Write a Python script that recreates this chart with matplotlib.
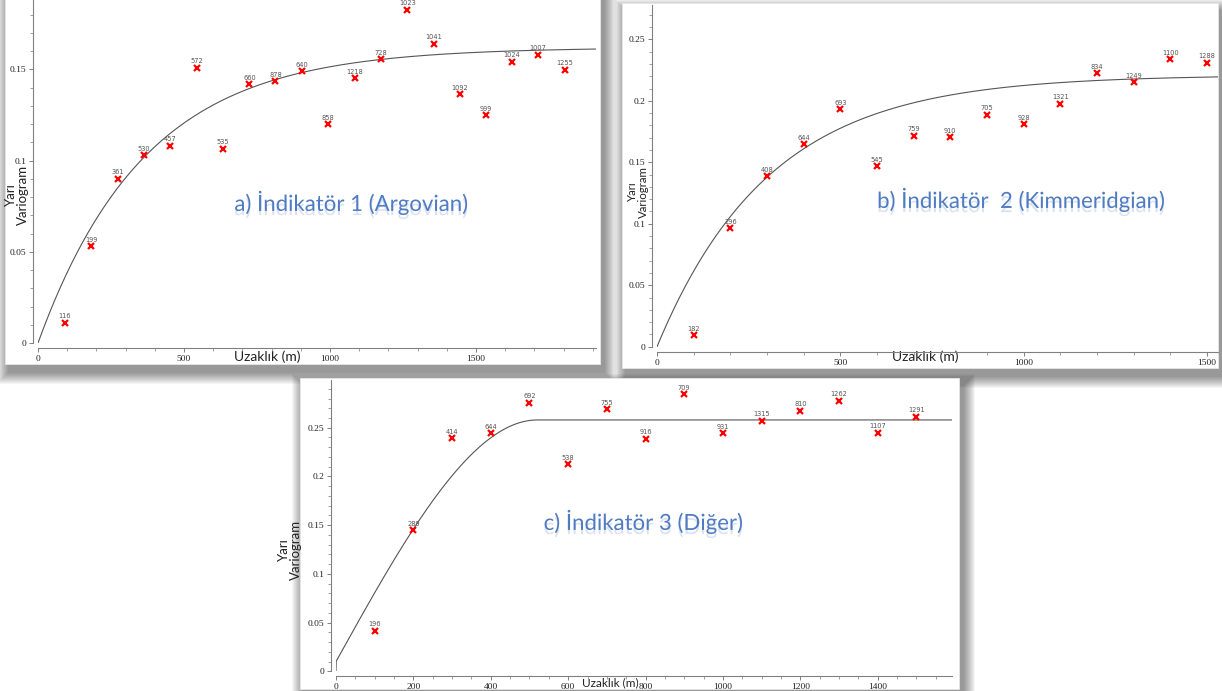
"""Three indicator variograms (experimental points + fitted model) laid out as cards."""
import numpy as np
import matplotlib
matplotlib.use("Agg")
import matplotlib.pyplot as plt
from matplotlib.patches import Rectangle
from matplotlib.ticker import MultipleLocator, FuncFormatter
import matplotlib.patheffects as pe

W, H = 1222, 691

# ---- panel a) Indikator 1 (Argovian)
lag_a = [92, 183, 273, 363, 453, 543, 634, 724, 813, 903, 994, 1085, 1175,
         1265, 1355, 1445, 1535, 1624, 1713, 1804]
gam_a = [0.011, 0.053, 0.090, 0.103, 0.108, 0.151, 0.1066, 0.1418, 0.1436,
         0.149, 0.1198, 0.145, 0.1555, 0.1827, 0.164, 0.1364, 0.1249, 0.1542,
         0.158, 0.1498]
pairs_a = ["116", "199", "361", "530", "457", "572", "535", "660", "878", "640",
           "858", "1218", "728", "1023", "1041", "1092", "999", "1024", "1007", "1255"]
sill_a, range_a = 0.162, 1100      # exponential model

# ---- panel b) Indikator 2 (Kimmeridgian)
lag_b = [100, 200, 300, 400, 500, 600, 700, 800, 900, 1000, 1100, 1200, 1300, 1400, 1500]
gam_b = [0.0095, 0.0965, 0.1385, 0.1646, 0.1932, 0.1469, 0.1718, 0.1705,
         0.1886, 0.1808, 0.1976, 0.2225, 0.215, 0.2337, 0.2309]
pairs_b = ["182", "296", "408", "644", "693", "545", "759", "910", "705", "928",
           "1321", "834", "1249", "1100", "1288"]
sill_b, range_b = 0.221, 920       # exponential model

# ---- panel c) Indikator 3 (Diger)
lag_c = [100, 200, 300, 400, 500, 600, 700, 800, 900, 1000, 1100, 1200, 1300, 1400, 1500]
gam_c = [0.0417, 0.145, 0.239, 0.2443, 0.2755, 0.2128, 0.269, 0.2385, 0.2843,
         0.2443, 0.2573, 0.2676, 0.2778, 0.245, 0.2614]
pairs_c = ["196", "289", "414", "644", "692", "538", "755", "916", "709", "931",
           "1315", "810", "1262", "1107", "1291"]
nugget_c, sill_c, range_c = 0.01, 0.258, 520   # spherical model


def expo(h, c, a):
    return c * (1 - np.exp(-3 * h / a))


def spher(h, c0, c, a):
    r = np.minimum(h / a, 1.0)
    g = c0 + (c - c0) * (1.5 * r - 0.5 * r ** 3)
    return np.where(h > 0, g, 0.0)


fig = plt.figure(figsize=(W / 100, H / 100), dpi=100)
fig.patch.set_facecolor("white")
bg = fig.add_axes([0, 0, 1, 1])
bg.set_xlim(0, W)
bg.set_ylim(H, 0)
bg.axis("off")


def card(x0, y0, x1, y1):
    # soft drop shadow then white card
    for i in range(12, 0, -1):
        bg.add_patch(Rectangle((x0 - i + 4, y0 - i + 8), (x1 - x0) + 2 * i, (y1 - y0) + 2 * i,
                               facecolor="black", edgecolor="none", alpha=0.04))
    bg.add_patch(Rectangle((x0, y0), x1 - x0, y1 - y0, facecolor="white",
                           edgecolor="#e6e6e6", lw=0.6))


card(5, -10, 600, 364)
card(622, 3, 1218, 368)
card(300, 378, 959, 689)


def px_axes(x0, x1, ytop, ybot):
    ax = fig.add_axes([x0 / W, 1 - ybot / H, (x1 - x0) / W, (ybot - ytop) / H])
    ax.set_facecolor("none")
    return ax


def fmt(v, _):
    return "0" if abs(v) < 1e-9 else f"{v:g}"


def style(ax, xmaj, xmin, ymaj, ymin):
    for s in ("top", "right"):
        ax.spines[s].set_visible(False)
    for s in ("left", "bottom"):
        ax.spines[s].set_position(("outward", 3.5))
        ax.spines[s].set_color("#808080")
        ax.spines[s].set_linewidth(0.8)
    ax.xaxis.set_major_locator(MultipleLocator(xmaj))
    ax.xaxis.set_minor_locator(MultipleLocator(xmin))
    ax.yaxis.set_major_locator(MultipleLocator(ymaj))
    ax.yaxis.set_minor_locator(MultipleLocator(ymin))
    ax.yaxis.set_major_formatter(FuncFormatter(fmt))
    ax.tick_params(which="major", length=3, width=0.7, color="#808080",
                   labelsize=6.8, pad=2, labelcolor="#222222")
    ax.tick_params(which="minor", length=2, width=0.6, color="#909090")
    for lab in ax.get_xticklabels() + ax.get_yticklabels():
        lab.set_family("Liberation Serif")


def points(ax, x, y, labels):
    ax.plot(x, y, "x", color="red", ms=4, mew=1.6, zorder=3, clip_on=False)
    for xi, yi, t in zip(x, y, labels):
        ax.annotate(t, (xi, yi), xytext=(0, 2.5), textcoords="offset points",
                    ha="center", va="bottom", fontsize=4.8, color="#555555",
                    family="DejaVu Sans", annotation_clip=False)


title_kw = dict(fontsize=16, color="#4f7bc4", family="Lato", ha="center", va="center",
                path_effects=[pe.withSimplePatchShadow(offset=(0, -3), shadow_rgbFace="#6f8fc0",
                                                       alpha=0.25)])
ylab_kw = dict(rotation=90, ha="center", va="center", family="Lato",
               color="#222222", linespacing=0.95, multialignment="center")
xlab_kw = dict(ha="center", va="center", family="Lato", color="#222222")

# ---- a
ax = px_axes(38, 596, 0, 343)
ax.set_xlim(0, 1911)
ax.set_ylim(0, 0.188)
h = np.linspace(0, 1911, 400)
ax.plot(h, expo(h, sill_a, range_a), color="#555555", lw=0.8)
points(ax, lag_a, gam_a, pairs_a)
style(ax, 500, 100, 0.05, 0.01)
bg.text(17, 195, "Yarı\nVariogram", fontsize=9.5, **ylab_kw)
bg.text(267, 357, "Uzaklık (m)", fontsize=10, **xlab_kw)
bg.text(352, 203, "a) İndikatör 1 (Argovian)", **title_kw)

# ---- b
ax = px_axes(657, 1218, 5, 346.7)
ax.set_xlim(0, 1530)
ax.set_ylim(0, 0.278)
h = np.linspace(0, 1530, 400)
ax.plot(h, expo(h, sill_b, range_b), color="#555555", lw=0.8)
points(ax, lag_b, gam_b, pairs_b)
style(ax, 500, 100, 0.05, 0.01)
bg.text(638, 192, "Yarı\nVariogram", fontsize=8.3, **ylab_kw)
bg.text(925, 357, "Uzaklık (m)", fontsize=10, **xlab_kw)
bg.text(1022, 200, "b) İndikatör  2 (Kimmeridgian)", **title_kw)

# ---- c
ax = px_axes(336, 951.7, 380, 671.3)
ax.set_xlim(0, 1591)
ax.set_ylim(0, 0.299)
h = np.concatenate([[0], np.linspace(0.5, 1591, 500)])
ax.plot(h, spher(h, nugget_c, sill_c, range_c), color="#555555", lw=0.8)
points(ax, lag_c, gam_c, pairs_c)
style(ax, 200, 50, 0.05, 0.01)
bg.text(290, 550, "Yarı\nVariogram", fontsize=9.5, **ylab_kw)
bg.text(610, 683, "Uzaklık (m)", fontsize=8.5, **xlab_kw)
bg.text(644, 522, "c) İndikatör 3 (Diğer)", **title_kw)

fig.savefig("out.png", dpi=100, facecolor="white")
plt.close(fig)
